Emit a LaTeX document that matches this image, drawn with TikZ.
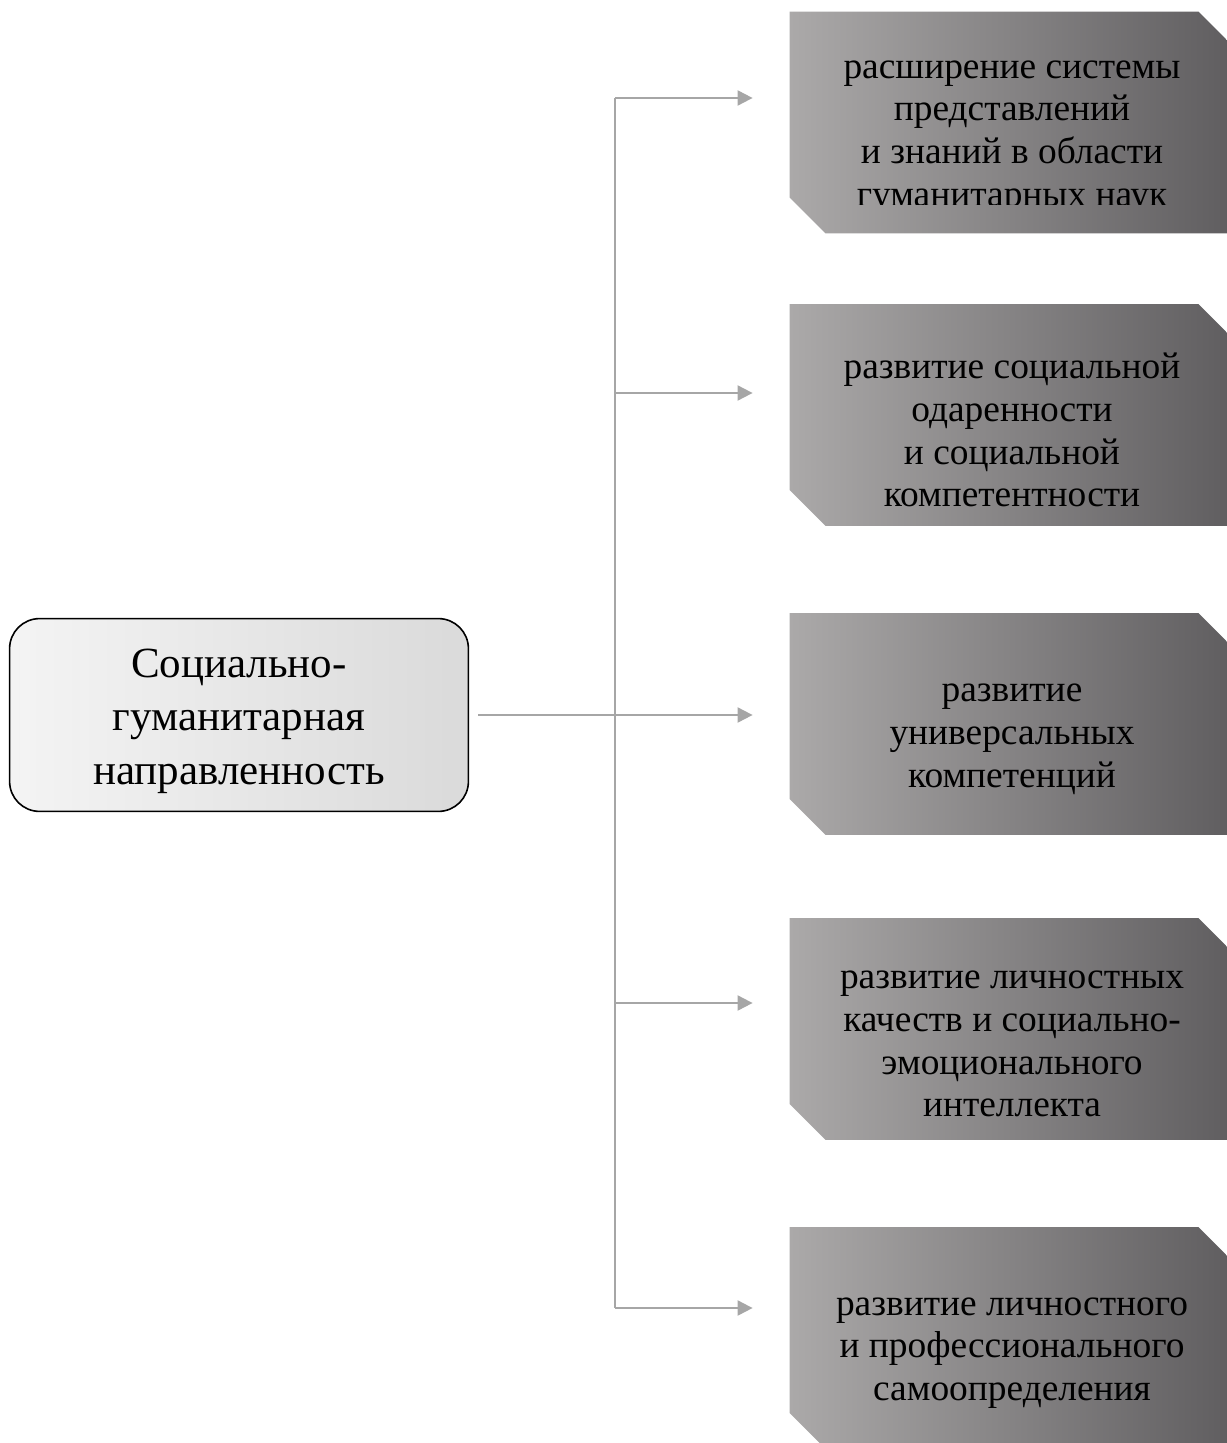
\documentclass[tikz,border=0pt]{standalone}
\usepackage{fontspec}
\setmainfont{Liberation Serif}
\usetikzlibrary{arrows.meta}
\definecolor{boxL}{HTML}{ABA9A9}
\definecolor{boxR}{HTML}{5F5D5F}
\definecolor{mainL}{HTML}{F4F4F4}
\definecolor{mainR}{HTML}{DADADA}
\definecolor{linegray}{HTML}{A6A6A6}
\pgfdeclarelayer{background}
\pgfsetlayers{background,main}
\tikzset{
  goaltext/.style={rectangle, minimum width=222pt, minimum height=110.5pt, inner sep=0pt,
    align=center, font=\fontsize{18.7}{21.4}\selectfont},
  goalfill/.style={left color=boxL, right color=boxR},
  maintext/.style={rectangle, minimum width=229pt, minimum height=96pt, inner sep=0pt,
    align=center, font=\fontsize{21.5}{26.75}\selectfont},
  mainfill/.style={draw=black, line width=0.8pt, rounded corners=15pt, left color=mainL, right color=mainR},
  conn/.style={draw=linegray, line width=1pt, -{Triangle[length=7.5pt,width=7.5pt]}, shorten >=18.5pt},
  trunk/.style={draw=linegray, line width=1pt}
}
\newcommand\chambox[1]{%
  \path[goalfill] ([yshift=7.5pt]#1.north west) -- ([xshift=-18pt,yshift=7.5pt]#1.north east)
    -- ([yshift=-10.5pt]#1.north east) -- ([yshift=7.5pt]#1.south east)
    -- ([xshift=18pt,yshift=7.5pt]#1.south west) -- ([yshift=25.5pt]#1.south west) -- cycle;}
\begin{document}
\begin{tikzpicture}[x=0.5pt,y=-0.5pt]
\useasboundingbox (0,0) rectangle (1226,1443);
\clip (0,0) rectangle (1226,1443);
\node[maintext] (main) at (239,721) {Социально-\\гуманитарная\\направленность};
\begin{scope}
\clip (780,0) rectangle (1240,205);
\node[goaltext] (b1) at (1012,137.5) {расширение системы\\представлений\\и знаний в области\\гуманитарных наук};
\end{scope}
\node[goaltext] (b2) at (1012,430) {развитие социальной\\одаренности\\и социальной\\компетентности};
\node[goaltext] (b3) at (1012,739) {развитие\\универсальных\\компетенций};
\node[goaltext] (b4) at (1012,1044) {развитие личностных\\качеств и социально-\\эмоционального\\интеллекта};
\node[goaltext] (b5) at (1012,1353) {развитие личностного\\и профессионального\\самоопределения};
\begin{pgfonlayer}{background}
\path[mainfill] ([yshift=3pt]main.north west) rectangle ([yshift=3pt]main.south east);
\chambox{b1}
\chambox{b2}
\chambox{b3}
\chambox{b4}
\chambox{b5}
\end{pgfonlayer}
\coordinate (v1) at (615,98);
\coordinate (v2) at (615,393);
\coordinate (v3) at (615,715);
\coordinate (v4) at (615,1003);
\coordinate (v5) at (615,1308);
\draw[trunk] (v1) -- (v5);
\draw[conn, shorten <=5pt] (main.east |- v3) -- (v3 -| b3.west);
\draw[conn] (v1) -- (v1 -| b1.west);
\draw[conn] (v2) -- (v2 -| b2.west);
\draw[conn] (v4) -- (v4 -| b4.west);
\draw[conn] (v5) -- (v5 -| b5.west);
\end{tikzpicture}
\end{document}
